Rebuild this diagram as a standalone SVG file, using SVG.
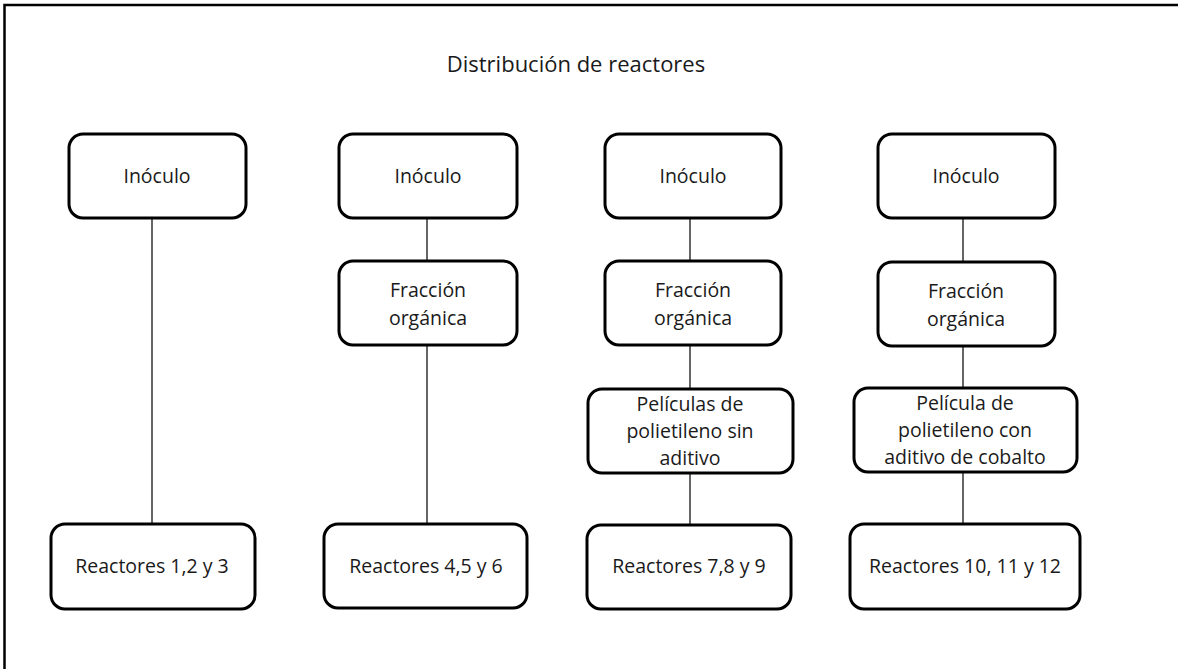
<svg xmlns="http://www.w3.org/2000/svg" width="1178" height="669" viewBox="0 0 1178 669">
<style>
.box{fill:#fff;stroke:#000;stroke-width:3}
.t{font-family:"Open Sans","Noto Sans","Liberation Sans",sans-serif;font-size:19.5px;fill:#1a1a1a;text-anchor:middle}
.title{font-size:22px}
.c{stroke:#333;stroke-width:1.5;fill:none}
</style>
<rect width="1178" height="669" fill="#fff"/>
<path d="M4.5,669 V5 H1178" fill="none" stroke="#000" stroke-width="2.5"/>
<text class="t title" x="576" y="72">Distribución de reactores</text>
<g id="connectors">
<line class="c" x1="152" y1="218" x2="152" y2="524"/>
<line class="c" x1="427" y1="218" x2="427" y2="261"/>
<line class="c" x1="427" y1="345" x2="427" y2="524"/>
<line class="c" x1="690" y1="218" x2="690" y2="261"/>
<line class="c" x1="690" y1="345" x2="690" y2="389"/>
<line class="c" x1="690" y1="473" x2="690" y2="525"/>
<line class="c" x1="963" y1="218" x2="963" y2="261"/>
<line class="c" x1="963" y1="346" x2="963" y2="388"/>
<line class="c" x1="963" y1="472" x2="963" y2="524"/>
</g>
<g id="inoculo1"><rect class="box" x="69" y="134" width="177" height="84" rx="14"/><text class="t" x="157" y="183">Inóculo</text></g>
<g id="reactores1"><rect class="box" x="51" y="524" width="204" height="85" rx="14"/><text class="t" x="152" y="573">Reactores 1,2 y 3</text></g>
<g id="inoculo2"><rect class="box" x="339" y="134" width="178" height="84" rx="14"/><text class="t" x="428" y="183">Inóculo</text></g>
<g id="fraccion2"><rect class="box" x="339" y="261" width="178" height="84" rx="14"/><text class="t" x="428" y="297">Fracción</text><text class="t" x="428" y="325">orgánica</text></g>
<g id="reactores2"><rect class="box" x="324" y="524" width="203" height="84" rx="14"/><text class="t" x="426" y="573">Reactores 4,5 y 6</text></g>
<g id="inoculo3"><rect class="box" x="605" y="134" width="176" height="84" rx="14"/><text class="t" x="693" y="183">Inóculo</text></g>
<g id="fraccion3"><rect class="box" x="605" y="261" width="176" height="84" rx="14"/><text class="t" x="693" y="297">Fracción</text><text class="t" x="693" y="325">orgánica</text></g>
<g id="peliculas3"><rect class="box" x="588" y="389" width="205" height="84" rx="14"/><text class="t" x="690" y="411">Películas de</text><text class="t" x="690" y="438">polietileno sin</text><text class="t" x="690" y="465">aditivo</text></g>
<g id="reactores3"><rect class="box" x="587" y="525" width="204" height="84" rx="14"/><text class="t" x="689" y="573">Reactores 7,8 y 9</text></g>
<g id="inoculo4"><rect class="box" x="878" y="134" width="177" height="84" rx="14"/><text class="t" x="966" y="183">Inóculo</text></g>
<g id="fraccion4"><rect class="box" x="878" y="262" width="177" height="84" rx="14"/><text class="t" x="966" y="298">Fracción</text><text class="t" x="966" y="326">orgánica</text></g>
<g id="pelicula4"><rect class="box" x="854" y="388" width="223" height="84" rx="14"/><text class="t" x="965" y="410">Película de</text><text class="t" x="965" y="437">polietileno con</text><text class="t" x="965" y="464">aditivo de cobalto</text></g>
<g id="reactores4"><rect class="box" x="850" y="524" width="230" height="85" rx="14"/><text class="t" x="965" y="573">Reactores 10, 11 y 12</text></g>
</svg>
